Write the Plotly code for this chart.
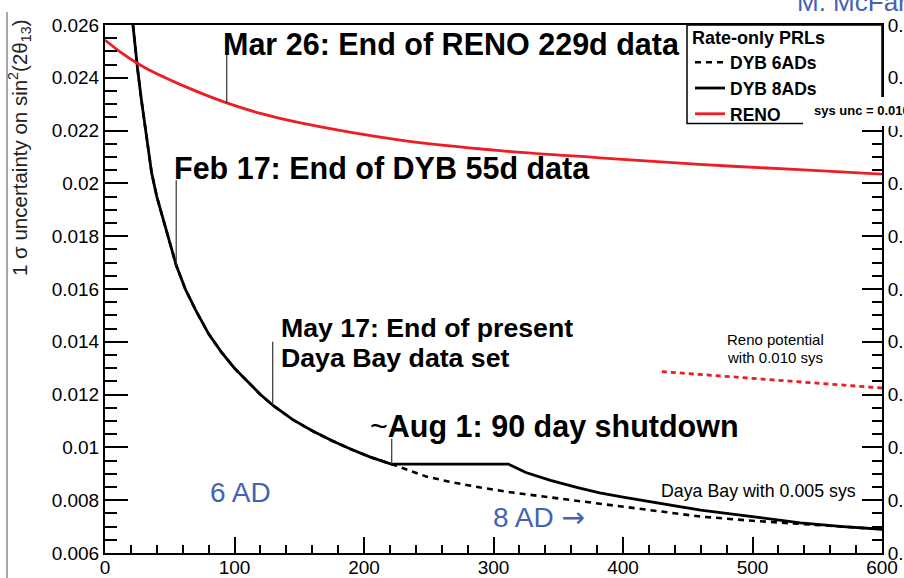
import numpy as np
import plotly.graph_objects as go

# ---------------- data ----------------
days_common = [21.6, 23, 25, 28, 32, 36, 40, 45, 50, 55, 62, 70, 80, 90, 100, 110, 120, 130,
               145, 160, 175, 190, 205, 221]
unc_common = [0.0260, 0.0253, 0.0244, 0.0232, 0.0218, 0.0204, 0.0195, 0.0186, 0.0177, 0.0169,
              0.0160, 0.0152, 0.0143, 0.0136, 0.0130, 0.0125, 0.0120, 0.01158,
              0.01105, 0.01063, 0.01026, 0.00993, 0.00963, 0.00937]

days_8ad = days_common + [311.5, 325, 344, 365, 382, 400, 420, 460, 506, 537, 570, 600]
unc_8ad = unc_common + [0.00937, 0.00905, 0.00875, 0.00848, 0.00828, 0.00812, 0.00795, 0.00762,
                        0.00734, 0.00714, 0.00700, 0.0069]

days_6ad = days_common + [235, 248, 266, 290, 313, 344, 377, 420, 460, 500, 537, 570, 600]
unc_6ad = unc_common + [0.00912, 0.00890, 0.00870, 0.00848, 0.00830, 0.00810, 0.00790, 0.00762,
                        0.00738, 0.00722, 0.00710, 0.00700, 0.0069]

days_reno = [0, 12, 24.5, 40, 58, 75, 94, 120, 150, 228, 305, 382, 459, 536, 600]
unc_reno = [0.02543, 0.02497, 0.02456, 0.02415, 0.02375, 0.0234, 0.02305, 0.02265, 0.0223,
            0.02164, 0.02124, 0.02097, 0.02072, 0.02052, 0.02035]

days_reno_pot = [430, 515, 600]
unc_reno_pot = [0.01287, 0.01256, 0.01225]

# milestone markers: day, curve it sits on, top of the connector line (value)
mark_days = [94, 55, 129.5, 221.4]
mark_curve = ["reno", "dyb", "dyb", "dyb"]
mark_top = [0.02486, 0.02012, 0.0140, 0.01033]

x_ticks = [0, 100, 200, 300, 400, 500, 600]
y_ticks = [0.006, 0.008, 0.010, 0.012, 0.014, 0.016, 0.018, 0.020, 0.022, 0.024, 0.026]
y_ticktext = ["0.006", "0.008", "0.01", "0.012", "0.014", "0.016", "0.018", "0.02", "0.022", "0.024", "0.026"]

# ---------------- layout geometry ----------------
W, H = 904, 578
L, R, T, B = 105, 22, 25, 25
PW, PH = W - L - R, H - T - B
FONT = "Liberation Sans"
BLUE = "#4463b3"


def px(x):
    return (x - L) / PW


def py(y):
    return (H - B - y) / PH


fig = go.Figure()

fig.add_trace(go.Scatter(x=days_6ad, y=unc_6ad, mode="lines", name="DYB 6ADs",
                         line=dict(color="black", width=2.6, dash="6px,5px")))
fig.add_trace(go.Scatter(x=days_8ad, y=unc_8ad, mode="lines", name="DYB 8ADs",
                         line=dict(color="black", width=2.8)))
fig.add_trace(go.Scatter(x=days_reno, y=unc_reno, mode="lines", name="RENO", line_shape="spline",
                         line=dict(color="#ee1c24", width=2.8)))
fig.add_trace(go.Scatter(x=days_reno_pot, y=unc_reno_pot, mode="lines", showlegend=False,
                         line=dict(color="#ee1c24", width=2.8, dash="5px,4px")))
# right mirrored axis carrier
fig.add_trace(go.Scatter(x=[None], y=[None], yaxis="y2", showlegend=False, hoverinfo="skip"))

shapes = []
# milestone connector lines
for d, c, top in zip(mark_days, mark_curve, mark_top):
    src_x = days_reno if c == "reno" else days_8ad
    src_y = unc_reno if c == "reno" else unc_8ad
    yv = float(np.interp(d, src_x, src_y))
    shapes.append(dict(type="line", xref="x", yref="y", x0=d, x1=d, y0=yv, y1=top,
                       line=dict(color="#333333", width=1.2)))

# legend box
shapes.append(dict(type="rect", xref="paper", yref="paper", x0=px(687), x1=px(882), y0=py(123.5), y1=py(25),
                   fillcolor="white", line=dict(color="black", width=1.5), layer="above"))
# white patch behind "sys unc"
shapes.append(dict(type="rect", xref="paper", yref="paper", x0=px(803), x1=px(910), y0=py(126), y1=py(97),
                   fillcolor="white", line=dict(width=0), layer="above"))
# slide frame line on the far left
shapes.append(dict(type="line", xref="paper", yref="paper", x0=px(7), x1=px(7), y0=py(12), y1=py(580),
                   line=dict(color="#888888", width=1.5), layer="above"))

ann = []


def text(x, y, s, size, color="black", xanchor="left", align="left", angle=0):
    ann.append(dict(x=px(x), y=py(y), xref="paper", yref="paper", text=s, showarrow=False,
                    xanchor=xanchor, yanchor="middle", align=align, textangle=angle,
                    font=dict(family=FONT, size=size, color=color)))


text(221, 44, "<b>Mar 26: End of RENO 229d data</b>", 30.5)
text(172, 168, "<b>Feb 17: End of DYB 55d data</b>", 30.5)
text(279, 328, "<b>May 17: End of present</b>", 26.7)
text(279, 358, "<b>Daya Bay data set</b>", 26.7)
text(368, 426, "~<b>Aug 1: 90 day shutdown</b>", 30.5)
text(208, 492, "6 AD", 28, BLUE)
text(491, 517, "8 AD <span style='font-family:DejaVu Sans'>\u2192</span>", 28, BLUE)
text(659, 491, "Daya Bay with 0.005 sys", 17.8)
text(775, 339, "Reno potential", 15, xanchor="center", align="center")
text(775, 357, "with 0.010 sys", 15, xanchor="center", align="center")
text(812, 111, "<b>sys unc = 0.010</b>", 13)
text(795, 2, "M. McFarlane", 26, BLUE)
text(20, 148, "1 \u03c3 uncertainty on sin<sup>2</sup>(2\u03b8<sub>13</sub>)", 20.5, "#222222", xanchor="center",
     align="center", angle=-90)

axis_common = dict(showline=True, linecolor="black", linewidth=2, ticks="inside", tickcolor="black",
                   tickwidth=2, showgrid=False, zeroline=False, automargin=False,
                   tickfont=dict(family=FONT, size=19, color="black"))

fig.update_layout(
    width=W, height=H,
    margin=dict(l=L, r=R, t=T, b=B, autoexpand=False),
    paper_bgcolor="white", plot_bgcolor="white",
    font=dict(family=FONT),
    showlegend=True,
    legend=dict(x=px(690), y=py(21), xanchor="left", yanchor="top", bgcolor="rgba(0,0,0,0)",
                borderwidth=0, tracegroupgap=0, itemwidth=30,
                title=dict(text="<b>Rate-only PRLs</b>", font=dict(family=FONT, size=18, color="black")),
                font=dict(family=FONT, size=17.5, color="black", weight="bold")),
    xaxis=dict(range=[0, 600], tickvals=x_ticks, ticklen=16, mirror=True, ticklabelstandoff=-4,
               minor=dict(dtick=20, ticklen=8, ticks="inside", tickcolor="black", tickwidth=2),
               **axis_common),
    yaxis=dict(range=[0.006, 0.026], tickvals=y_ticks, ticktext=y_ticktext, ticklen=23,
               minor=dict(dtick=0.0005, ticklen=12, ticks="inside", tickcolor="black", tickwidth=2),
               **axis_common),
    yaxis2=dict(range=[0.006, 0.026], overlaying="y", side="right", tickvals=y_ticks, ticktext=y_ticktext,
                ticklen=20, minor=dict(dtick=0.0005, ticklen=10, ticks="inside", tickcolor="black", tickwidth=2),
                **axis_common),
    shapes=shapes,
    annotations=ann,
)

fig.write_html("out.html")
